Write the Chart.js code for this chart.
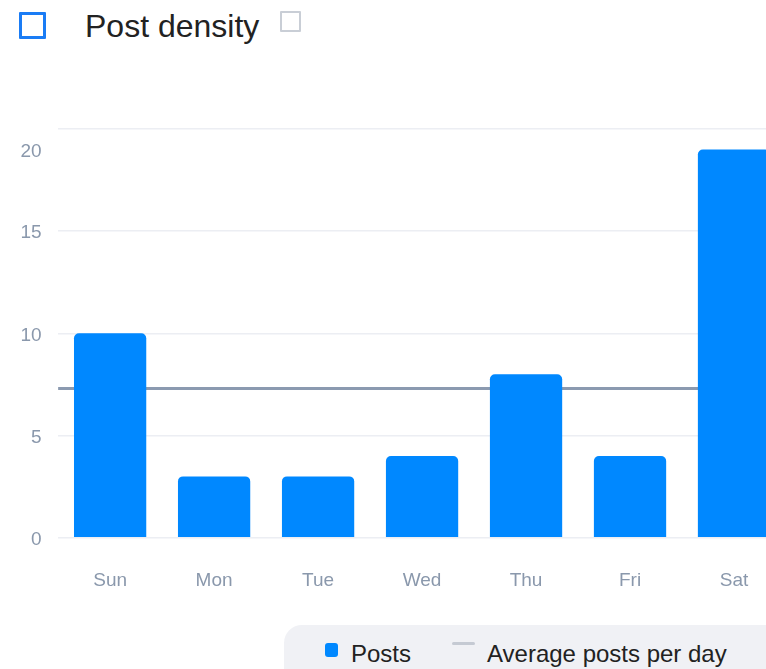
<!DOCTYPE html>
<html>
<head>
<meta charset="utf-8">
<script src="https://cdn.jsdelivr.net/npm/chart.js@4"></script>
<style>
  html, body { margin: 0; padding: 0; background: #fff; }
  body { width: 766px; height: 669px; overflow: hidden; position: relative; font-family: "Liberation Sans", Arial, Helvetica, sans-serif; }
  #chk1 { position: absolute; left: 19px; top: 12px; width: 21px; height: 21px; border: 3.5px solid #1a7cf5; border-radius: 1px; }
  #title { position: absolute; left: 85px; top: 6px; font-size: 32px; color: #222; line-height: 40px; margin: 0; font-weight: normal; }
  #chk2 { position: absolute; left: 280px; top: 11px; width: 17px; height: 17px; border: 2.5px solid #c9ced6; border-radius: 1px; }
  #wrap { position: absolute; left: 0; top: 0; width: 790px; height: 630px; }
  #legend { position: absolute; left: 284px; top: 625px; width: 520px; height: 70px; background: #f0f1f5; border-radius: 18px; }
  .lg { position: absolute; font-size: 24px; color: #222; line-height: 28px; top: 15px; white-space: nowrap; }
  .mk { position: absolute; }
</style>
</head>
<body>
<div id="chk1"></div>
<h1 id="title">Post density</h1>
<div id="chk2"></div>
<div id="wrap"><canvas id="c"></canvas></div>
<div id="legend"></div>
<script>
const days = ["Sun", "Mon", "Tue", "Wed", "Thu", "Fri", "Sat"];
const posts = [10, 3, 3, 4, 8, 4, 19];
const avgLine = [7.3, 7.3, 7.3, 7.3, 7.3, 7.3, 7.3];
const yTickValues = [0, 5, 10, 15, 20];
const seriesNames = ["Posts", "Average posts per day"];

const barColor = "#0088ff";
const lineColor = "#8b9ab0";
const legendLineColor = "#c5cad3";
const tickColor = "#8a98ac";
const gridColor = "#eceef3";
const topLabelValue = Math.max(...posts);
const topTick = yTickValues[yTickValues.length - 1];

const chart = new Chart(document.getElementById("c"), {
  data: {
    labels: days,
    datasets: [
      {
        type: "bar",
        label: seriesNames[0],
        data: posts,
        backgroundColor: barColor,
        borderRadius: { topLeft: 5, topRight: 5 },
        borderSkipped: "bottom",
        grouped: false,
        categoryPercentage: 1,
        barPercentage: 0.695,
        xAxisID: "x",
        yAxisID: "y"
      },
      {
        type: "line",
        label: seriesNames[1],
        data: avgLine,
        borderColor: lineColor,
        borderWidth: 3,
        pointRadius: 0,
        fill: false,
        xAxisID: "xLine",
        yAxisID: "y"
      }
    ]
  },
  options: {
    responsive: true,
    maintainAspectRatio: false,
    animation: false,
    layout: { padding: { top: 129, left: 4, right: 4, bottom: 5.5 } },
    plugins: { legend: { display: false }, tooltip: { enabled: false } },
    scales: {
      x: {
        type: "category",
        offset: true,
        grid: { display: false, drawTicks: false },
        border: { display: false },
        ticks: { color: tickColor, font: { family: "Liberation Sans", size: 19 }, padding: 32 }
      },
      xLine: {
        type: "category",
        labels: days,
        offset: false,
        display: false
      },
      y: {
        type: "linear",
        min: 0,
        max: topTick,
        grid: {
          drawTicks: false,
          lineWidth: 1.5,
          color: (ctx) => (ctx.tick && ctx.tick.value === topLabelValue && !yTickValues.includes(topLabelValue)) ? "rgba(0,0,0,0)" : gridColor
        },
        border: { display: false },
        afterBuildTicks: (scale) => {
          const t = yTickValues.map(v => ({ value: v }));
          if (!yTickValues.includes(topLabelValue)) t.push({ value: topLabelValue });
          t.sort((a, b) => a.value - b.value);
          scale.ticks = t;
        },
        ticks: {
          color: tickColor,
          font: { family: "Liberation Sans", size: 19 },
          padding: 16.5,
          labelOffset: 2,
          callback: (v) => {
            if (v === topLabelValue && !yTickValues.includes(v)) return String(topTick);
            if (v === topTick && !yTickValues.includes(topLabelValue)) return "";
            return String(v);
          }
        }
      }
    }
  }
});

// HTML legend built from the chart datasets
const lg = document.getElementById("legend");
const ds = chart.data.datasets;
const m1 = document.createElement("div");
m1.className = "mk";
Object.assign(m1.style, { left: "41px", top: "18px", width: "13px", height: "14px", background: ds[0].backgroundColor, borderRadius: "3px" });
lg.appendChild(m1);
const t1 = document.createElement("div");
t1.className = "lg"; t1.style.left = "67px"; t1.textContent = ds[0].label;
lg.appendChild(t1);
const m2 = document.createElement("div");
m2.className = "mk";
Object.assign(m2.style, { left: "168px", top: "17px", width: "23px", height: "3px", background: legendLineColor, borderRadius: "2px" });
lg.appendChild(m2);
const t2 = document.createElement("div");
t2.className = "lg"; t2.style.left = "203px"; t2.textContent = ds[1].label;
lg.appendChild(t2);
</script>
</body>
</html>
